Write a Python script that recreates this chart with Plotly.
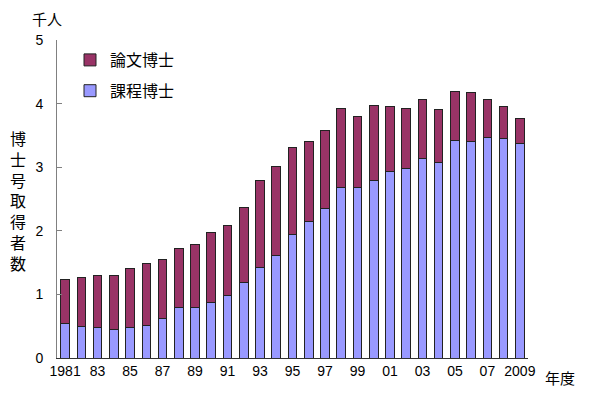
import plotly.graph_objects as go

years = [str(y) for y in range(1981, 2010)]
tick_labels = ["1981", "83", "85", "87", "89", "91", "93", "95", "97", "99",
               "01", "03", "05", "07", "2009"]
tick_years = [str(y) for y in range(1981, 2010, 2)]

course = [0.54, 0.50, 0.48, 0.45, 0.48, 0.51, 0.62, 0.79, 0.79, 0.88,
          0.98, 1.19, 1.43, 1.61, 1.94, 2.14, 2.35, 2.68, 2.68, 2.79,
          2.94, 2.98, 3.13, 3.07, 3.42, 3.41, 3.47, 3.45, 3.37]
total = [1.24, 1.27, 1.29, 1.29, 1.41, 1.49, 1.55, 1.72, 1.78, 1.97,
         2.09, 2.36, 2.79, 3.01, 3.31, 3.41, 3.58, 3.93, 3.80, 3.97,
         3.96, 3.92, 4.07, 3.91, 4.19, 4.18, 4.07, 3.95, 3.76]
thesis = [round(t - c, 2) for t, c in zip(total, course)]

JP = "Noto Sans CJK JP"
NUM = "Liberation Sans, Arial"

# page is offset by the default 8px body margin; figure coords = page coords - 8
W, H = 592, 386
ML, MR, MT, MB = 49, 72, 32, 36
PW, PH = W - ML - MR, H - MT - MB

def px(x):
    return (x - 8 - ML) / PW

def py(y):
    return 1 - (y - 8 - MT) / PH

fig = go.Figure()
fig.add_trace(go.Bar(x=years, y=course, name="課程博士", legendgroup="b", legendrank=2,
                     marker=dict(color="#9999FF", line=dict(color="#222222", width=1))))
fig.add_trace(go.Bar(x=years, y=thesis, name="論文博士", legendgroup="a", legendrank=1,
                     marker=dict(color="#993366", line=dict(color="#222222", width=1))))

ann_font = dict(family=JP, size=15, color="black")
fig.update_layout(
    width=W, height=H,
    margin=dict(l=ML, r=MR, t=MT, b=MB),
    barmode="stack", bargap=0.47,
    plot_bgcolor="white", paper_bgcolor="white",
    showlegend=True,
    legend=dict(x=px(70), y=py(43), xanchor="left", yanchor="top",
                traceorder="grouped", tracegroupgap=7,
                font=dict(family=JP, size=16, color="black"),
                bgcolor="rgba(0,0,0,0)"),
    xaxis=dict(type="category", tickvals=tick_years, ticktext=tick_labels,
               showline=True, linecolor="#333333", linewidth=1, ticks="",
               tickfont=dict(family=NUM, size=14, color="black"),
               showgrid=False),
    yaxis=dict(range=[0, 5], tickvals=[0, 1, 2, 3, 4, 5], showline=True,
               linecolor="#808080", linewidth=1, ticks="inside", ticklen=5,
               tickcolor="#808080", showgrid=False, zeroline=False,
               ticklabelstandoff=10,
               tickfont=dict(family=NUM, size=14, color="black")),
    annotations=[
        dict(text="千人", x=px(47), y=py(19), xref="paper", yref="paper",
             xanchor="center", yanchor="middle", showarrow=False, font=ann_font),
        dict(text="年度", x=px(560), y=py(377), xref="paper", yref="paper",
             xanchor="center", yanchor="middle", showarrow=False, font=ann_font),
        dict(text="博<br>士<br>号<br>取<br>得<br>者<br>数", x=px(18), y=py(200),
             xref="paper", yref="paper", xanchor="center", yanchor="middle",
             showarrow=False, font=dict(family=JP, size=16, color="black")),
    ],
)
fig.write_html("out.html")
